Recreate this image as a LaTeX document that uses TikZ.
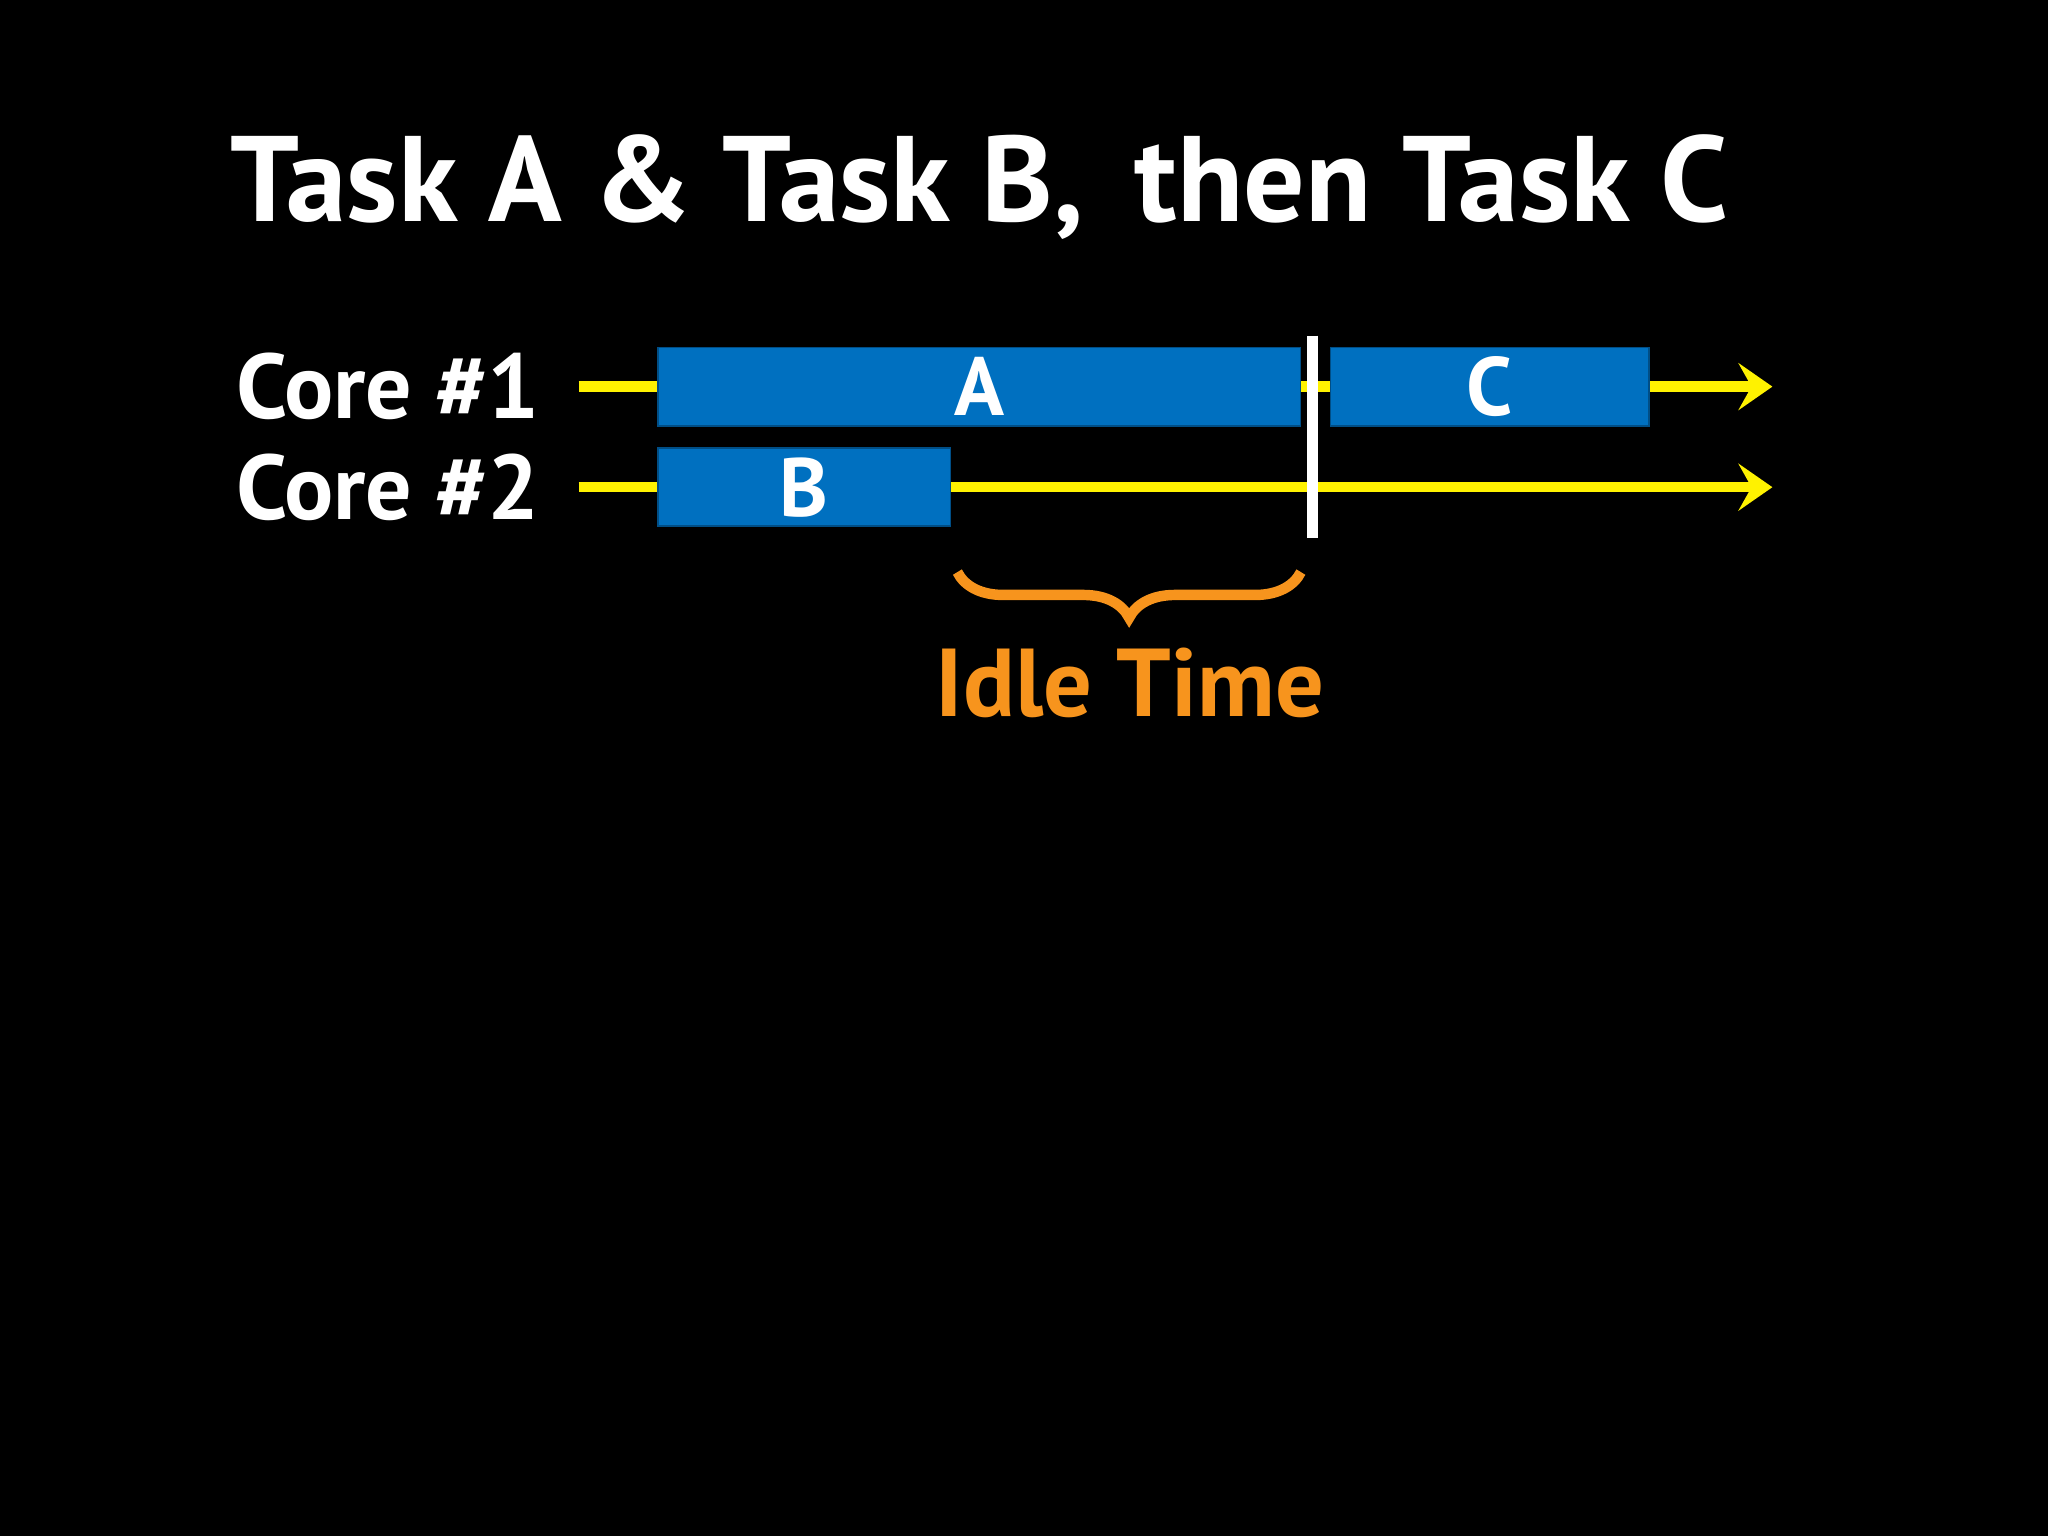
\documentclass[tikz,border=0pt]{standalone}
\usepackage{fontspec}
\setmainfont{PT Sans}
\usetikzlibrary{positioning, arrows.meta, decorations.pathreplacing}
\definecolor{taskblue}{HTML}{0070C0}
\definecolor{idleorange}{HTML}{F7941D}
\definecolor{lineyellow}{HTML}{FFF200}
\begin{document}
\begin{tikzpicture}[x=0.1mm,y=-0.1mm,
    task/.style={draw=taskblue!70!black, fill=taskblue, text=white, font=\bfseries\fontsize{18}{18}\selectfont, inner sep=0pt, minimum height=6mm, anchor=west},
    core/.style={text=white, font=\bfseries\fontsize{20}{20}\selectfont, anchor=east, inner sep=0pt},
    timeline/.style={lineyellow, line width=0.8mm, -{Stealth[length=2.6mm,width=3.6mm,inset=1mm]}}]

    \fill[black] (0,0) rectangle (1568,1176);
    \useasboundingbox (0,0) rectangle (1568,1176);

    \node[text=white, font=\bfseries\fontsize{26.5}{26.5}\selectfont] (title) at (750,143) {Task A \& Task B,\, then Task C};

    \node[core] (core1) at (414,296) {Core \#1};
    \node[core] (core2) at (414,373) {Core \#2};

    \coordinate (start1) at (443,296);
    \coordinate (end1) at (1357,296);
    \coordinate (start2) at (443,373);
    \coordinate (end2) at (1357,373);
    \draw[timeline] (start1) -- (end1);
    \draw[timeline] (start2) -- (end2);

    \node[task, minimum width=49.2mm] (taskA) at (503,296) {A};
    \node[task, minimum width=24.4mm] (taskC) at (1018,296) {C};
    \node[task, minimum width=22.4mm] (taskB) at (503,373) {B};

    \coordinate (syncTop) at (1005,257);
    \coordinate (syncBot) at (1005,412);
    \draw[white, line width=0.8mm] (syncTop) -- (syncBot);

    \coordinate (idleL) at (733,438);
    \coordinate (idleR) at (996,438);
    \draw[idleorange, line width=0.8mm, decorate,
          decoration={brace, mirror, amplitude=3.5mm}] (idleL) -- (idleR);
    \node[text=idleorange, font=\bfseries\fontsize{21}{21}\selectfont] (idle) at (865,523) {Idle Time};

\end{tikzpicture}
\end{document}
